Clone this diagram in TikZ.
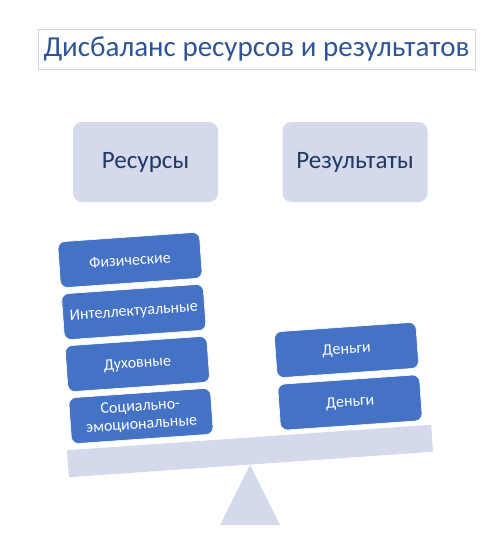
\documentclass[tikz,border=0pt]{standalone}
\usepackage{fontspec}
\setmainfont{Carlito}
\begin{document}
\begin{tikzpicture}[x=1pt,y=-1pt]
\definecolor{lav}{HTML}{D4D9EB}
\definecolor{blk}{HTML}{4472C4}
\definecolor{ttl}{HTML}{2F5597}
\definecolor{hdr}{HTML}{1F3864}
\definecolor{tbord}{HTML}{CDD3E4}
\tikzset{
  hdrbox/.style={fill=lav, rounded corners=9pt, minimum width=145pt, minimum height=80pt, text=hdr, font=\fontsize{25}{30}\selectfont, inner sep=0pt},
  blkbox/.style={fill=blk, draw=white, line width=0.6pt, rounded corners=7pt, minimum width=142pt, minimum height=46pt, text=white, font=\fontsize{16}{19}\selectfont, align=center, rotate=4, inner sep=0pt},
}
\useasboundingbox (0,0) rectangle (500,551);
\fill[white] (0,0) rectangle (500,551);
% title
\node[draw=tbord, line width=0.8pt, minimum width=437pt, minimum height=40pt, text=ttl, font=\fontsize{29}{34}\selectfont, inner sep=0pt] (title) at (256.5,49) {Дисбаланс ресурсов и результатов};
% header boxes
\node[hdrbox] (res) at (145.5,162) {Ресурсы};
\node[hdrbox] (rez) at (355,162) {Результаты};
% fulcrum
\fill[lav] (250,465) -- (280,525) -- (220,525) -- cycle;
\node[fill=lav, minimum width=365pt, minimum height=27pt, rotate=4, inner sep=0pt] (beam) at (250,451) {};
% left stack
\node[blkbox] (fiz) at (130,260) {Физические};
\node[blkbox] (int) at (133.8,312) {Интеллектуальные};
\node[blkbox] (duh) at (137.4,364) {Духовные};
\node[blkbox] (soc) at (141,416) {Социально-\\[-1pt]эмоциональные};
% right stack
\node[blkbox] (den1) at (346.5,350) {Деньги};
\node[blkbox] (den2) at (350,402.5) {Деньги};
\end{tikzpicture}
\end{document}
